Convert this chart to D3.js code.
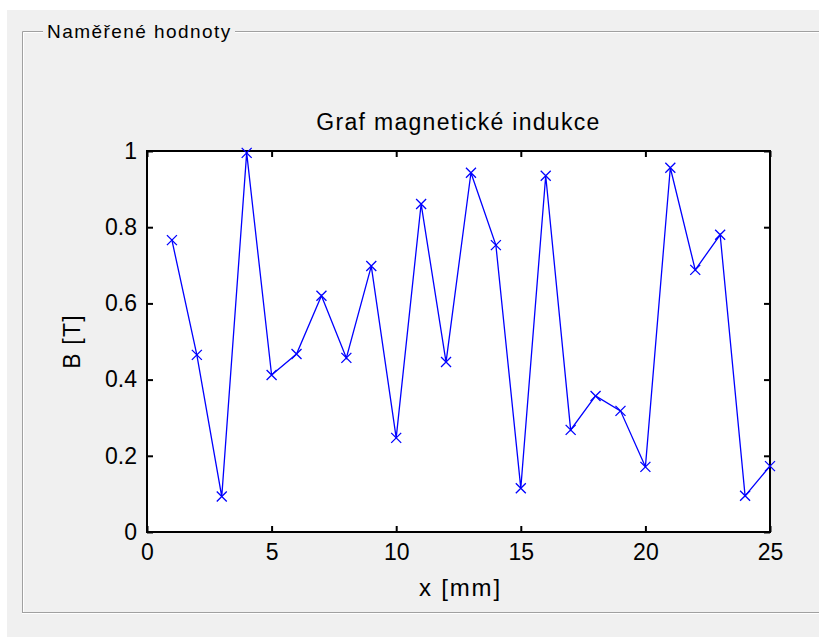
<!DOCTYPE html>
<html><head><meta charset="utf-8">
<script src="https://cdn.jsdelivr.net/npm/d3@7/dist/d3.min.js"></script>
<style>
html,body{margin:0;padding:0;background:#fff;}
svg{display:block;font-family:"Liberation Sans",Arial,sans-serif;}
</style></head>
<body>
<svg id="c" width="819" height="637"></svg>
<script>
const xValues = [1,2,3,4,5,6,7,8,9,10,11,12,13,14,15,16,17,18,19,20,21,22,23,24,25];
const bValues = [0.766,0.465,0.093,0.995,0.412,0.467,0.620,0.457,0.698,0.247,0.861,0.446,0.943,0.753,0.115,0.935,0.268,0.357,0.318,0.171,0.956,0.688,0.780,0.095,0.173];
const xTicks = [0,5,10,15,20,25];
const yTicks = [0,0.2,0.4,0.6,0.8,1];
const panelTitle = "Naměřené hodnoty";
const chartTitle = "Graf magnetické indukce";
const xLabel = "x [mm]";
const yLabel = "B [T]";

const svg = d3.select("#c");
svg.append("rect").attr("x",7).attr("y",10).attr("width",812).attr("height",627).attr("fill","#f0f0f0");
const gb = svg.append("g");
gb.append("path").attr("d","M22.5,612.5 V31.5 H819").attr("fill","none").attr("stroke","#a0a0a0");
gb.append("path").attr("d","M23.5,612 V32.5 H819").attr("fill","none").attr("stroke","#ffffff");
gb.append("path").attr("d","M22,612.5 H819").attr("fill","none").attr("stroke","#a0a0a0");
gb.append("path").attr("d","M22,613.5 H819").attr("fill","none").attr("stroke","#ffffff");
gb.append("rect").attr("x",43).attr("y",18).attr("width",192).attr("height",24).attr("fill","#f0f0f0");
gb.append("text").attr("x",47).attr("y",38).attr("font-size",19).attr("letter-spacing",1.45).attr("fill","#000").text(panelTitle);

const L=147, R=770, T=151, B=532;
const x = d3.scaleLinear().domain([0,25]).range([L,R]);
const y = d3.scaleLinear().domain([0,1]).range([B,T]);

svg.append("rect").attr("x",L).attr("y",T).attr("width",R-L).attr("height",B-T).attr("fill","#fff");

const fs = 23;
const gx = svg.append("g").attr("transform",`translate(0,${B})`)
  .call(d3.axisBottom(x).tickValues(xTicks).tickSize(-6).tickPadding(12).tickFormat(d3.format("d")));
const gy = svg.append("g").attr("transform",`translate(${L},0)`)
  .call(d3.axisLeft(y).tickValues(yTicks).tickSize(-6).tickPadding(10).tickFormat(d=> d===0?"0":d===1?"1":d3.format(".1f")(d)));
const gt = svg.append("g").attr("transform",`translate(0,${T})`)
  .call(d3.axisTop(x).tickValues(xTicks).tickSize(-6).tickFormat(""));
const gr = svg.append("g").attr("transform",`translate(${R},0)`)
  .call(d3.axisRight(y).tickValues(yTicks).tickSize(-6).tickFormat(""));
[gx,gy,gt,gr].forEach(g=>{
  g.select(".domain").remove();
  g.selectAll("line").attr("stroke","#000").attr("stroke-width",2);
  g.selectAll("text").attr("font-size",fs).attr("fill","#000").attr("font-family","Liberation Sans, Arial, sans-serif");
});
svg.append("rect").attr("x",L).attr("y",T).attr("width",R-L).attr("height",B-T)
  .attr("fill","none").attr("stroke","#000").attr("stroke-width",2);

const data = xValues.map((d,i)=>({x:d,y:bValues[i]}));
svg.append("path").datum(data)
  .attr("d",d3.line().x(d=>x(d.x)).y(d=>y(d.y)))
  .attr("fill","none").attr("stroke","#0000ff").attr("stroke-width",1.3);
const s=5;
svg.append("g").selectAll("path.m").data(data).join("path")
  .attr("d",d=>{const cx=x(d.x), cy=y(d.y);return `M${cx-s},${cy-s}L${cx+s},${cy+s}M${cx-s},${cy+s}L${cx+s},${cy-s}`;})
  .attr("stroke","#0000ff").attr("stroke-width",1.3).attr("fill","none");

svg.append("text").attr("x",(L+R)/2).attr("y",130).attr("text-anchor","middle")
  .attr("font-size",23).attr("letter-spacing",1.3).attr("fill","#000").text(chartTitle);
svg.append("text").attr("x",(L+R)/2+2).attr("y",596).attr("text-anchor","middle")
  .attr("font-size",24).attr("letter-spacing",1.8).attr("fill","#000").text(xLabel);
svg.append("text").attr("transform",`translate(80,${(T+B)/2}) rotate(-90)`).attr("text-anchor","middle")
  .attr("font-size",23).attr("letter-spacing",1.2).attr("fill","#000").text(yLabel);
</script>
</body></html>
